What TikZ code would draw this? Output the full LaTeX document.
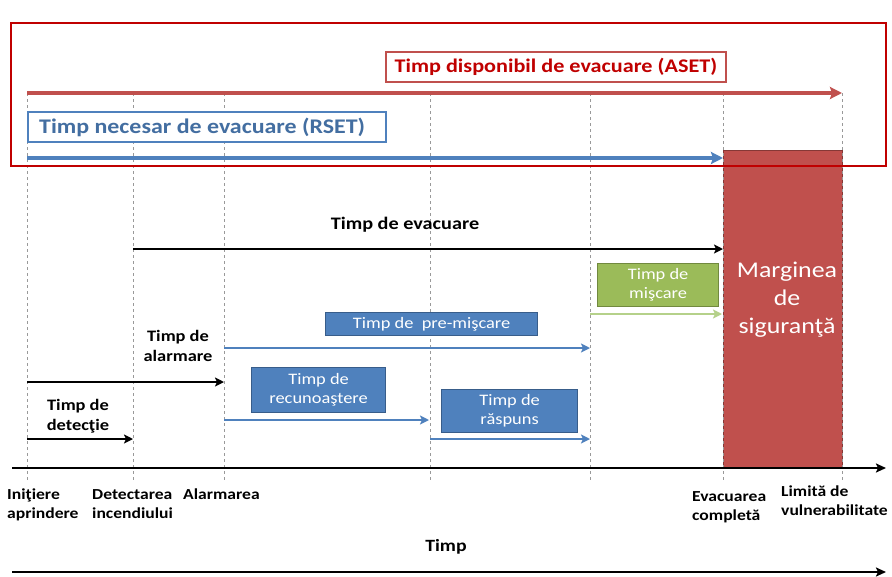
\documentclass[tikz,border=0pt]{standalone}
\usepackage{fontspec}
\setmainfont{Carlito}[FakeStretch=1.15]
\usetikzlibrary{arrows.meta}
\definecolor{asetred}{HTML}{C0504D}
\definecolor{darkred}{HTML}{C00000}
\definecolor{rsetblue}{HTML}{4F81BD}
\definecolor{bluedark}{HTML}{385D8A}
\definecolor{mygreen}{HTML}{9BBB59}
\definecolor{greendark}{HTML}{71893F}
\definecolor{lightgreen}{HTML}{B5D18A}
\tikzset{
  vline/.style={draw=gray!80, line width=0.8pt, dash pattern=on 3pt off 3pt},
  blackarrow/.style={draw=black, line width=2.2pt, -{Stealth[length=9pt,width=9pt,inset=2pt]}},
  bluearrow/.style={draw=rsetblue, line width=2.2pt, -{Stealth[length=9pt,width=9pt,inset=2pt]}},
  greenarrow/.style={draw=lightgreen, line width=2.6pt, -{Stealth[length=9pt,width=9pt,inset=2pt]}},
  bigred/.style={draw=asetred, line width=4pt, -{Stealth[length=12pt,width=12pt,inset=2pt]}},
  bigblue/.style={draw=rsetblue, line width=4pt, -{Stealth[length=12pt,width=12pt,inset=2pt]}},
  bluebox/.style={fill=rsetblue, draw=bluedark, line width=1.2pt, text=white, align=center, inner sep=0pt, font=\fontsize{16}{19}\selectfont},
  greenbox/.style={fill=mygreen, draw=greendark, line width=1.2pt, text=white, align=center, inner sep=0pt, font=\fontsize{16}{19}\selectfont},
  blacklabel/.style={text=black, align=center, inner sep=0pt, font=\bfseries\fontsize{16}{20}\selectfont},
  axislabel/.style={text=black, align=left, inner sep=0pt, anchor=north west, font=\bfseries\fontsize{15.3}{19}\selectfont},
  timeaxis/.style={draw=black, line width=2.2pt, -{Stealth[length=10pt,width=9pt,inset=2pt]}},
}
\begin{document}
\begin{tikzpicture}[x=1pt,y=-1pt]
\useasboundingbox (0,0) rectangle (892,576);
\fill[white] (0,0) rectangle (892,576);

% vertical dashed lines
\foreach \n/\x in {0/27,1/133,2/224,3/430,4/590,5/723,6/842}{
  \coordinate (vt\n) at (\x,93);
  \coordinate (vb\n) at (\x,482);
}
% margin block
\node[fill=asetred, draw=asetred!70!black, line width=0.8pt, minimum width=119pt, minimum height=318pt, anchor=north west, inner sep=0pt] (marg) at (723,150) {};
\node[text=white, align=center, inner sep=0pt, font=\fontsize{22.5}{28}\selectfont] (margtxt) at (787,300) {Marginea\\de\\siguranţă};

\foreach \n in {0,...,6}{ \draw[vline] (vt\n) -- (vb\n); }

% outer red frame
\node[draw=darkred, line width=2pt, minimum width=875pt, minimum height=143pt, anchor=north west, inner sep=0pt] (frame) at (10,22) {};

% ASET
\node[draw=asetred, line width=1.8pt, fill=white, minimum width=340pt, minimum height=30pt, anchor=north west, inner sep=0pt] (asetbox) at (385,51) {};
\node[text=darkred, font=\bfseries\fontsize{19.3}{22}\selectfont, inner sep=0pt] (asettxt) at (asetbox.center) {Timp disponibil de evacuare (ASET)};
\coordinate (aset0) at (27,93);
\coordinate (aset1) at (842,93);
\draw[bigred] (aset0) -- (aset1);

% RSET
\node[draw=rsetblue, line width=1.8pt, fill=white, minimum width=358pt, minimum height=30pt, anchor=north west, inner sep=0pt] (rsetbox) at (27,111) {};
\node[text=rsetblue!85!black, font=\bfseries\fontsize{20.8}{23}\selectfont, inner sep=0pt, anchor=west] (rsettxt) at (39,127) {Timp necesar de evacuare (RSET)};
\coordinate (rset0) at (27,158);
\coordinate (rset1) at (723,158);
\draw[bigblue] (rset0) -- (rset1);

% Timp de evacuare
\node[blacklabel, font=\bfseries\fontsize{17.6}{21}\selectfont] (evtxt) at (405,225) {Timp de evacuare};
\coordinate (ev0) at (133,249);
\coordinate (ev1) at (723,249);
\draw[blackarrow] (ev0) -- (ev1);

% Timp de miscare
\node[greenbox, minimum width=121pt, minimum height=43pt, anchor=north west] (misc) at (597,263) {Timp de\\mişcare};
\coordinate (mi0) at (590,314);
\coordinate (mi1) at (722,314);
\draw[greenarrow] (mi0) -- (mi1);

% pre-miscare
\node[bluebox, minimum width=212pt, minimum height=23pt, anchor=north west] (pre) at (325,312) {Timp de\ \ pre-mişcare};
\coordinate (pr0) at (224,348);
\coordinate (pr1) at (590,348);
\draw[bluearrow] (pr0) -- (pr1);

% alarmare
\node[blacklabel] (altxt) at (178,346) {Timp de\\alarmare};
\coordinate (al0) at (27,382);
\coordinate (al1) at (224,382);
\draw[blackarrow] (al0) -- (al1);

% recunoastere
\node[bluebox, minimum width=134pt, minimum height=45pt, anchor=north west] (rec) at (251,367) {Timp de\\recunoaştere};
\coordinate (re0) at (224,420);
\coordinate (re1) at (429,420);
\draw[bluearrow] (re0) -- (re1);

% raspuns
\node[bluebox, minimum width=136pt, minimum height=43pt, anchor=north west] (rasp) at (441,389) {Timp de\\răspuns};
\coordinate (ra0) at (430,439);
\coordinate (ra1) at (590,439);
\draw[bluearrow] (ra0) -- (ra1);

% detectie
\node[blacklabel] (dettxt) at (78,416) {Timp de\\detecţie};
\coordinate (de0) at (27,439);
\coordinate (de1) at (133,439);
\draw[blackarrow] (de0) -- (de1);

% time axis
\coordinate (ax0) at (12,468);
\coordinate (ax1) at (886,468);
\draw[timeaxis] (ax0) -- (ax1);

\node[axislabel] (l0) at (7,489) {Iniţiere\\aprindere};
\node[axislabel] (l1) at (92,489) {Detectarea\\incendiului};
\node[axislabel] (l2) at (183,489) {Alarmarea};
\node[axislabel] (l5) at (692,491) {Evacuarea\\completă};
\node[axislabel] (l6) at (781,486) {Limită de\\vulnerabilitate};

\node[text=black, font=\bfseries\fontsize{17.2}{20}\selectfont, inner sep=0pt] (timp) at (446,547) {Timp};
\coordinate (tp0) at (12,572);
\coordinate (tp1) at (886,572);
\draw[timeaxis] (tp0) -- (tp1);
\end{tikzpicture}
\end{document}
